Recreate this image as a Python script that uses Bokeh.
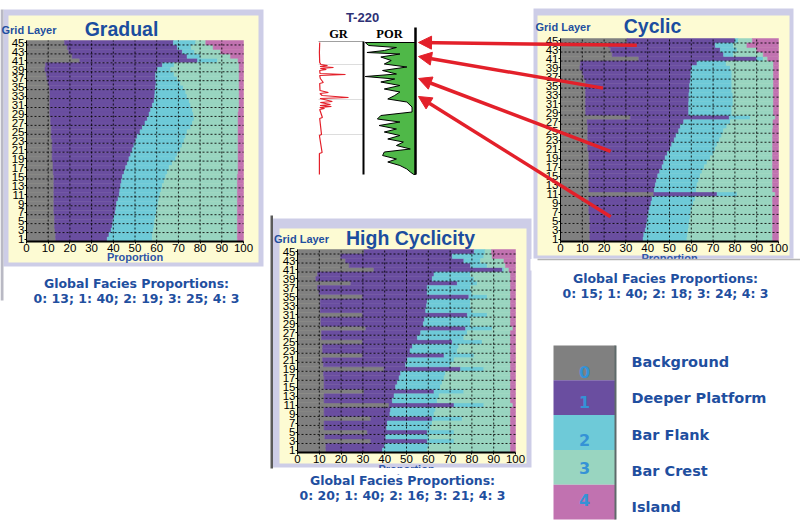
import numpy as np
from bokeh.plotting import figure
from bokeh.models import Range1d, LinearAxis, FixedTicker, Arrow, NormalHead
from bokeh.core.properties import value
from bokeh.embed import file_html
from bokeh.resources import INLINE

# ---------------------------------------------------------------- data
LAYERS = list(range(45, 0, -1))          # grid layers, top (45) to bottom (1)
FACIES = ["Background", "Deeper Platform", "Bar Flank", "Bar Crest", "Island"]
FACIES_CODES = ["0", "1", "2", "3", "4"]
X_TICKS = [0, 10, 20, 30, 40, 50, 60, 70, 80, 90, 100]
Y_TICKS = list(range(1, 46, 2))

# cumulative proportion (%) at the right end of facies 0,1,2,3 for each layer (45 -> 1)
GRAD_BG = [17.5, 18.8, 19.5, 21.0, 24.5, 8.8, 8.5, 9.2, 9.5, 10.0, 10.5, 10.8, 10.8, 10.8, 10.8,
           10.8, 10.8, 11.1, 11.1, 11.4, 11.4, 11.4, 11.8, 11.8, 11.8, 11.8, 11.8, 12.2, 12.2, 12.3,
           12.6, 12.6, 12.6, 12.6, 12.6, 12.6, 12.6, 12.6, 12.6, 12.9, 12.9, 12.9, 13.1, 13.4, 13.4]
GRAD_DP = [67.7, 69.5, 71.8, 74.0, 78.8, 62.6, 60.3, 59.5, 59.5, 59.7, 59.5, 59.2, 59.1, 58.8, 58.0,
           57.2, 56.5, 55.7, 54.6, 53.4, 52.3, 51.0, 50.3, 49.5, 48.8, 48.0, 47.2, 46.5, 45.7, 45.0,
           44.2, 43.8, 43.4, 43.0, 42.8, 42.2, 41.5, 41.2, 40.9, 40.3, 39.8, 39.5, 39.0, 38.0, 37.2]
GRAD_BF = [78.0, 76.0, 77.5, 80.3, 88.0, 68.0, 66.5, 68.0, 69.5, 71.0, 72.3, 73.4, 74.0, 75.0, 75.7,
           76.5, 77.0, 77.2, 76.5, 75.7, 74.0, 73.4, 72.6, 71.8, 71.0, 69.5, 68.8, 67.2, 65.7, 65.0,
           64.2, 63.4, 62.6, 62.2, 61.5, 61.0, 60.6, 60.3, 60.0, 59.5, 59.1, 58.8, 58.5, 58.0, 58.0]
GRAD_BC = [82.6, 86.0, 89.5, 94.0, 97.5, 98.0, 98.0, 98.0, 98.0, 98.0, 98.0, 98.0, 98.0, 98.0, 98.0,
           97.8, 97.5, 97.5, 97.5, 97.5, 97.5, 97.5, 97.5, 97.5, 97.5, 97.5, 97.5, 97.5, 97.5, 97.5,
           97.2, 97.2, 97.2, 97.2, 97.2, 97.2, 97.2, 97.2, 97.2, 97.2, 97.2, 97.2, 97.2, 97.2, 97.2]

CYC_BG = [30.5, 22.0, 23.0, 23.7, 35.9, 9.2, 8.9, 10.0, 10.7, 11.5, 11.5, 11.5, 11.5, 11.5, 11.5,
          11.5, 11.5, 32.0, 12.2, 12.5, 12.5, 12.5, 12.5, 12.5, 12.5, 13.0, 13.0, 13.0, 13.0, 13.0,
          13.0, 13.0, 13.0, 13.0, 42.7, 13.0, 13.0, 13.0, 13.0, 13.4, 13.4, 13.4, 13.4, 13.4, 13.4]
CYC_DP = [80.0, 71.0, 73.3, 74.8, 90.0, 62.6, 60.3, 59.8, 59.8, 59.5, 59.2, 59.2, 58.9, 58.9, 58.8,
          58.8, 58.8, 77.4, 56.5, 55.0, 54.2, 53.0, 52.2, 51.0, 50.3, 49.0, 48.0, 47.3, 46.6, 45.5,
          44.6, 44.0, 43.5, 43.0, 71.8, 42.0, 41.5, 40.9, 40.5, 40.0, 39.7, 39.4, 38.9, 38.2, 37.9]
CYC_BF = [81.5, 79.4, 81.0, 79.4, 93.0, 76.0, 77.9, 78.6, 78.6, 78.6, 78.6, 78.6, 79.1, 79.1, 79.1,
          78.6, 78.6, 87.0, 77.9, 76.3, 74.8, 74.0, 73.0, 71.8, 71.0, 70.0, 68.7, 67.2, 66.0, 64.9,
          64.1, 63.4, 62.6, 62.3, 81.0, 61.8, 61.0, 60.3, 59.8, 59.5, 59.2, 58.9, 58.6, 58.3, 58.0]
CYC_BC = [88.0, 85.5, 90.0, 93.0, 95.0, 97.7, 97.7, 97.7, 97.7, 97.7, 97.7, 97.7, 97.7, 97.7, 97.7,
          97.7, 97.7, 98.5, 97.5, 97.5, 97.3, 97.3, 97.3, 97.3, 97.3, 97.3, 97.3, 97.3, 97.3, 97.3,
          97.3, 97.3, 97.3, 97.3, 98.5, 97.3, 97.3, 97.3, 97.3, 97.3, 97.3, 97.3, 97.3, 97.3, 97.3]

HC_BG = [30.5, 19.8, 22.0, 23.7, 35.0, 9.2, 8.4, 24.4, 9.2, 9.9, 29.8, 10.4, 10.4, 10.4, 29.8,
         10.7, 10.7, 31.3, 11.0, 11.0, 29.8, 11.5, 11.5, 29.8, 11.5, 11.9, 39.7, 11.9, 12.2, 12.2,
         12.2, 30.5, 12.2, 12.2, 42.0, 12.2, 12.2, 33.6, 12.2, 12.2, 32.0, 12.5, 33.6, 13.0, 13.0]
HC_DP = [81.0, 71.0, 76.3, 79.4, 94.0, 62.6, 61.8, 73.3, 59.5, 59.5, 78.6, 59.5, 59.2, 58.8, 77.9,
         58.3, 57.7, 77.1, 56.5, 55.0, 71.0, 52.7, 51.6, 67.2, 50.4, 49.6, 74.8, 47.3, 46.6, 45.8,
         45.0, 62.6, 44.3, 43.5, 71.8, 42.7, 42.4, 61.8, 41.2, 40.9, 59.5, 40.5, 59.5, 40.0, 39.0]
HC_BF = [86.0, 85.5, 84.0, 87.0, 94.7, 79.4, 81.0, 82.4, 79.4, 80.0, 87.0, 79.4, 79.4, 80.0, 87.0,
         79.4, 79.4, 89.3, 77.9, 76.3, 84.7, 74.0, 73.3, 81.0, 71.8, 70.2, 85.5, 67.9, 67.2, 66.4,
         65.6, 76.3, 64.9, 64.1, 85.5, 63.4, 62.6, 75.6, 61.8, 61.1, 71.8, 60.3, 71.8, 60.3, 59.5]
HC_BC = [89.0, 89.3, 94.7, 95.4, 97.0, 97.7, 97.7, 97.7, 97.7, 97.7, 97.7, 97.7, 97.7, 97.7, 97.7,
         97.7, 97.7, 98.8, 97.7, 97.7, 97.7, 97.7, 97.7, 97.7, 97.7, 97.7, 97.7, 97.7, 97.7, 97.7,
         97.7, 97.7, 97.7, 97.7, 98.8, 97.7, 97.7, 97.7, 97.7, 97.7, 97.7, 97.7, 97.7, 97.7, 97.7]

GLOBAL_GRADUAL = "0: 13; 1: 40; 2: 19; 3: 25; 4: 3"
GLOBAL_CYCLIC = "0: 15; 1: 40; 2: 18; 3: 24; 4: 3"
GLOBAL_HIGH = "0: 20; 1: 40; 2: 16; 3: 21; 4: 3"

# well log T-220 (depth in track units from top of log)
LOG_NAME = "T-220"
GR_DEPTH = [0, 10, 20, 22, 23, 24, 25, 26, 27, 28, 31, 32, 33, 36, 40, 41, 48, 50, 51, 53,
            55, 56, 59, 60, 62, 63, 64, 65, 66, 67, 75, 76, 92, 93, 110, 111, 132]
GR_VALUE = [4, 3, 4, 8, 30, 5, 50, 6, 26, 4, 5, 90, 4, 6, 16, 4, 5, 33, 5, 12,
            100, 5, 46, 6, 40, 5, 43, 4, 20, 4, 13, 4, 10, 3, 12, 3, 3]
POR_DEPTH = [0, 3, 5, 8, 10, 11.5, 14.5, 18, 21.5, 24.5, 28, 31.5, 34, 36.5, 39.5, 43, 46.5, 49.5,
             53, 56.5, 59.5, 64.5, 69.5, 73, 76.5, 79.5, 83, 86.5, 89.5, 93, 96.5, 99.5, 103,
             106.5, 109.5, 113, 116.5, 119.5, 123, 126.5, 129.5, 132]
POR_VALUE = [0.29, 0.27, 0.11, 0.18, 0.28, 0.09, 0.20, 0.14, 0.18, 0.05, 0.19, 0.11, 0.29, 0.12,
             0.20, 0.09, 0.18, 0.09, 0.12, 0.16, 0.05, 0.02, 0.02, 0.20, 0.22, 0.09, 0.21, 0.11,
             0.18, 0.09, 0.16, 0.07, 0.11, 0.03, 0.18, 0.19, 0.11, 0.16, 0.09, 0.05, 0.03, 0.01]
GR_GRID_DEPTH = [22, 57, 92]

# arrows: from a layer of the Cyclic model to a depth on the log
ARROW_TAIL_PCT = [35.0, 19.5, 23.0, 23.0]
ARROW_TAIL_LAYER = [44.0, 34.5, 20.5, 6.0]
ARROW_HEAD_DEPTH = [0, 14, 36, 54]

# ---------------------------------------------------------------- style
FACIES_COLORS = ["#808080", "#6a4ea0", "#6ecad8", "#99d5c0", "#c172b0"]
LAVENDER = "#cdcde7"
YELLOW = "#fdfbd3"
TITLE_BLUE = "#1b4d9f"
TEXT_BLUE = "#1f4f9f"
NUM_BLUE = "#3592d6"
RED = "#e3202a"

CX0, CX1, CY0, CY1 = 0, 800, 0, 524   # page coordinates covered by the canvas

p = figure(width=CX1 - CX0, height=CY1 - CY0, output_backend="svg", toolbar_location=None,
           x_range=Range1d(CX0, CX1), y_range=Range1d(CY1, CY0),
           x_axis_type=None, y_axis_type=None, min_border=0,
           background_fill_color="white", border_fill_color="white")
p.outline_line_color = None


def add_ranges(key, left, right, top, bottom, xlo, xhi, ylo, yhi):
    sx = (right - left) / (xhi - xlo)
    sy = (bottom - top) / (yhi - ylo)
    xr = Range1d(start=xlo - (left - CX0) / sx, end=xhi + (CX1 - right) / sx)
    yr = Range1d(start=ylo - (CY1 - bottom) / sy, end=yhi + (top - CY0) / sy)
    p.extra_x_ranges = {**p.extra_x_ranges, key + "_x": xr}
    p.extra_y_ranges = {**p.extra_y_ranges, key + "_y": yr}


def txt(x, y, s, size, color="black", font="Liberation Sans", style="bold", align="left"):
    p.text(x=[x], y=[y], text=[s], text_font=value(font), text_font_size=size,
           text_font_style=style, text_color=color, text_align=align, text_baseline="middle")


# ---------------------------------------------------------------- frames
FRAMES = [  # outer lavender (left, right, top, bottom), inner yellow
    ((3, 263, 9, 266), (8, 258, 15, 262)),
    ((533, 793, 8, 258), (537, 789, 15, 255)),
    ((272, 531, 218, 467), (279, 526, 228, 463)),
]
for (l, r, t, b), (il, ir, it, ib) in FRAMES:
    p.quad(left=l, right=r, top=t, bottom=b, fill_color=LAVENDER, line_color=None)
    p.quad(left=il, right=ir, top=it, bottom=ib, fill_color=YELLOW, line_color=None)
p.quad(left=270, right=272.5, top=215, bottom=468, fill_color="#5a5a5a", line_color=None)
p.quad(left=0, right=3, top=9, bottom=300, fill_color="#b9b9c4", line_color=None)

PANELS = [
    dict(key="grad", title="Gradual", geo=(26, 243, 40, 241), b=(GRAD_BG, GRAD_DP, GRAD_BF, GRAD_BC),
         title_xy=(121, 28.5), grid_xy=(1, 29), prop_y=256.5, glob=GLOBAL_GRADUAL, glob_xy=(136, 283)),
    dict(key="cyc", title="Cyclic", geo=(560, 778, 38, 241), b=(CYC_BG, CYC_DP, CYC_BF, CYC_BC),
         title_xy=(652, 25.5), grid_xy=(535, 26.5), prop_y=257, glob=GLOBAL_CYCLIC, glob_xy=(665, 278)),
    dict(key="hc", title="High Cyclicity", geo=(297, 515, 249, 452), b=(HC_BG, HC_DP, HC_BF, HC_BC),
         title_xy=(410, 237), grid_xy=(273.5, 238), prop_y=468, glob=GLOBAL_HIGH, glob_xy=(402, 480)),
]

for P in PANELS:
    key = P["key"]
    l, r, t, b = P["geo"]
    add_ranges(key, l, r, t, b, 0, 100, 0.5, 45.5)
    xr, yr = key + "_x", key + "_y"
    bounds = [np.zeros(len(LAYERS))] + [np.array(v, dtype=float) for v in P["b"]] + \
             [np.full(len(LAYERS), 100.0)]
    for i, col in enumerate(FACIES_COLORS):
        p.hbar(y=LAYERS, left=bounds[i], right=bounds[i + 1], height=1.0, fill_color=col,
               line_color=col, line_width=0.5, x_range_name=xr, y_range_name=yr)
    inner = X_TICKS[1:-1]
    p.segment(x0=inner, y0=0.5, x1=inner, y1=45.5, line_color="black", line_width=1,
              line_dash="2 2", line_alpha=0.85, x_range_name=xr, y_range_name=yr)
    hy = [t_ + 1.5 for t_ in Y_TICKS[:-1]]
    p.segment(x0=0, y0=hy, x1=100, y1=hy, line_color="black", line_width=1,
              line_dash="2 2", line_alpha=0.85, x_range_name=xr, y_range_name=yr)

    xa = LinearAxis(x_range_name=xr, y_range_name=yr, fixed_location=0.5, bounds=(0, 100),
                    ticker=FixedTicker(ticks=X_TICKS))
    ya = LinearAxis(x_range_name=xr, y_range_name=yr, fixed_location=0, bounds=(0.5, 45.5),
                    ticker=FixedTicker(ticks=Y_TICKS))
    for ax in (xa, ya):
        ax.major_label_text_font = "Liberation Sans"
        ax.major_label_text_font_size = "11.5px"
        ax.major_label_text_color = "black"
        ax.major_tick_out = 2
        ax.major_tick_in = 0
        ax.minor_tick_line_color = None
        ax.major_label_standoff = 0
        ax.axis_line_color = "black"
    xa.axis_line_width = 2
    p.add_layout(xa, "below")
    p.add_layout(ya, "left")

    tx, ty = P["title_xy"]
    txt(tx, ty, P["title"], "19.5px", TITLE_BLUE, align="center")
    gx, gy = P["grid_xy"]
    txt(gx, gy, "Grid Layer", "11px", TEXT_BLUE, align="left")
    txt((l + r) / 2, P["prop_y"], "Proportion", "11px", "#2f55a8", align="center")
    cx, cy = P["glob_xy"]
    txt(cx, cy, "Global Facies Proportions:", "12.5px", TEXT_BLUE, font="DejaVu Sans",
        align="center")
    txt(cx, cy + 15, P["glob"], "12.5px", TEXT_BLUE, font="DejaVu Sans", align="center")

# partially hidden axis titles at the lower frame edges
p.quad(left=530, right=800, top=258.5, bottom=270, fill_color="white", line_color=None)
p.segment(x0=[537], y0=[259], x1=[800], y1=[259], line_color="#b4b4b4", line_width=1.5)
p.quad(left=273, right=532, top=467.5, bottom=474, fill_color="white", line_color=None)

# ---------------------------------------------------------------- well log
GR_L, GR_R, POR_R, LOG_T, LOG_B = 318, 363, 415, 42, 174
add_ranges("gr", GR_L, GR_R, LOG_T, LOG_B, 0, 150, 132, 0)
add_ranges("por", GR_R, POR_R, LOG_T, LOG_B, 0.3, 0.0, 132, 0)

p.segment(x0=0, y0=GR_GRID_DEPTH, x1=150, y1=GR_GRID_DEPTH, line_color="#dddddd",
          line_width=1, x_range_name="gr_x", y_range_name="gr_y")
p.segment(x0=[GR_L], y0=[41], x1=[GR_R], y1=[41], line_color="#a0a0a0", line_width=1)
p.line(x=GR_VALUE, y=GR_DEPTH, line_color=RED, line_width=1.2,
       x_range_name="gr_x", y_range_name="gr_y")
p.patch(x=[0.0] + POR_VALUE + [0.0], y=[POR_DEPTH[0]] + POR_DEPTH + [POR_DEPTH[-1]],
        fill_color="#4fb848", line_color="black", line_width=1,
        x_range_name="por_x", y_range_name="por_y")
p.segment(x0=[GR_R, POR_R], y0=[41, 27], x1=[GR_R, POR_R], y1=[LOG_B, LOG_B],
          line_color="black", line_width=[2, 2.5])
txt(362, 17, LOG_NAME, "13px", "#2e3175", align="center")
txt(338, 33, "GR", "12.5px", "black", font="Liberation Serif", align="center")
txt(389, 33, "POR", "12.5px", "black", font="Liberation Serif", align="center")

# ---------------------------------------------------------------- arrows
cl, cr, ct, cb = PANELS[1]["geo"]
for pct, lay, dep in zip(ARROW_TAIL_PCT, ARROW_TAIL_LAYER, ARROW_HEAD_DEPTH):
    xs = cl + pct * (cr - cl) / 100.0
    ys = cb - (lay - 0.5) * (cb - ct) / 45.0
    xe = POR_R + 3
    ye = LOG_T + dep * (LOG_B - LOG_T) / 132.0
    p.add_layout(Arrow(end=NormalHead(size=13, fill_color=RED, line_color=RED, line_width=1),
                       x_start=xs, y_start=ys, x_end=xe, y_end=ye,
                       line_color=RED, line_width=3.5))

# ---------------------------------------------------------------- legend
LEG_L, LEG_R, LEG_T, LEG_H = 553, 615, 345, 34.8
tops = [LEG_T + i * LEG_H for i in range(len(FACIES))]
p.quad(left=LEG_L, right=LEG_R, top=tops, bottom=[t_ + LEG_H for t_ in tops],
       fill_color=FACIES_COLORS, line_color=None)
p.segment(x0=[LEG_R], y0=[LEG_T], x1=[LEG_R], y1=[LEG_T + 5 * LEG_H], line_color="#5e6a6a",
          line_width=2)
LEG_NUM_Y = [371, 401, 439, 467.5, 499]
LEG_LABEL_Y = [361, 397.5, 434, 470, 506]
p.text(x=584, y=LEG_NUM_Y, text=FACIES_CODES, text_font=value("DejaVu Sans"),
       text_font_size="16px", text_font_style="bold", text_color=NUM_BLUE,
       text_align="center", text_baseline="middle")
p.text(x=631, y=LEG_LABEL_Y, text=FACIES, text_font=value("DejaVu Sans"),
       text_font_size="14.5px", text_font_style="bold", text_color=TEXT_BLUE,
       text_align="left", text_baseline="middle")

open("out.html", "w").write(file_html(p, INLINE))
